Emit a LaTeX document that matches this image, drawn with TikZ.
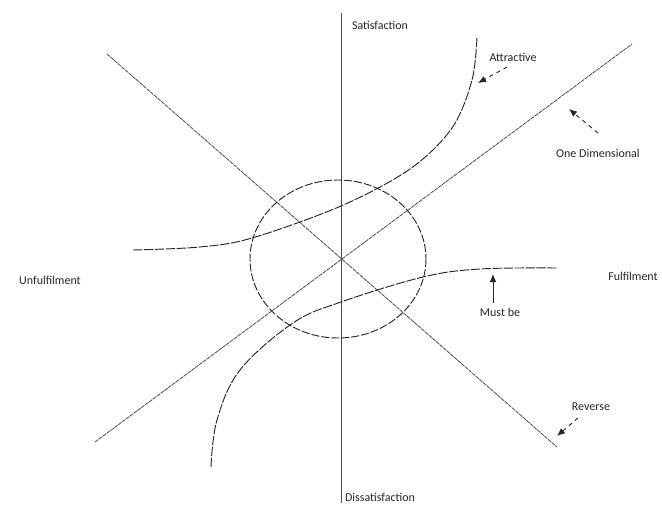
\documentclass[tikz,border=0pt]{standalone}
\usepackage{fontspec}
\setmainfont{Carlito}
\usetikzlibrary{arrows.meta}

\begin{document}
\begin{tikzpicture}[
    x=0.75pt, y=-0.75pt,
    >={Latex[length=6pt,width=5pt]},
    every node/.style={font=\fontsize{9}{10}\selectfont, text=black!85, inner sep=1pt},
    axisline/.style={draw=black!70, line width=0.7pt},
    diagline/.style={draw=black!70, line width=0.6pt, dash pattern=on 3pt off 0.6pt},
    curveline/.style={draw=black!85, line width=0.7pt, dash pattern=on 7pt off 1.2pt},
    pointer/.style={->, draw=black!85, line width=0.7pt},
]
\useasboundingbox (0,0) rectangle (662,511);

% Axis labels
\node (sat) at (380,25) {Satisfaction};
\node (dissat) at (380,497) {Dissatisfaction};
\node (unful) at (50,280) {Unfulfilment};
\node (ful) at (633,276) {Fulfilment};

% Vertical axis
\coordinate (axtop) at (341,13);
\coordinate (axbot) at (341,503);
\draw[axisline] (axtop) -- (axbot);

% Diagonals
\coordinate (revA) at (107,54);
\coordinate (revB) at (557,447);
\draw[diagline] (revA) -- (revB);
\coordinate (oneA) at (95,442);
\coordinate (oneB) at (632,44);
\draw[diagline] (oneA) -- (oneB);

% Circle
\draw[curveline, dash pattern=on 6pt off 1.5pt] (338,259) ellipse [x radius=88, y radius=79];

% Attractive curve
\draw[curveline] plot[smooth, tension=0.55] coordinates {(133,250) (200,247) (252,238) (341,206) (410,169) (452,128) (472,80) (477,37)};

% Must be curve
\draw[curveline] plot[smooth, tension=0.6] coordinates {(211,467) (217,420) (240,370) (293,323) (341,302) (423,277) (480,269) (557,268)};

% Curve labels with arrows
\node (attr) at (513,57) {Attractive};
\coordinate (attrtail) at (507,67);
\coordinate (attrtip) at (478,83);
\draw[pointer, dashed] (attrtail) -- (attrtip);

\node (onedim) at (598,153) {One Dimensional};
\coordinate (onetail) at (598,133);
\coordinate (onetip) at (569,109);
\draw[pointer, dashed] (onetail) -- (onetip);

\node (must) at (500,312) {Must be};
\coordinate (musttip) at (493,274);
\draw[pointer] (must.north -| musttip) ++(0,-3) -- (musttip);

\node (rev) at (591,407) {Reverse};
\coordinate (revtail) at (578,418);
\coordinate (revtip) at (557,436);
\draw[pointer, dashed] (revtail) -- (revtip);

\end{tikzpicture}
\end{document}
